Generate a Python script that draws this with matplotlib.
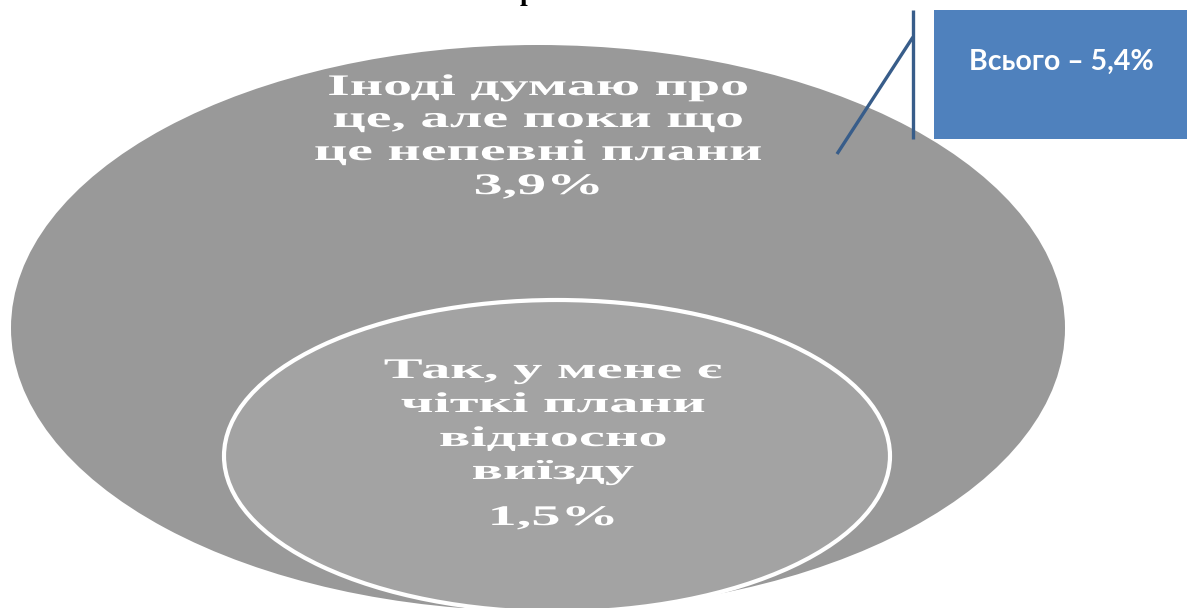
import matplotlib
matplotlib.use("Agg")
import matplotlib.pyplot as plt
from matplotlib.patches import Ellipse, Rectangle
from matplotlib.patheffects import AbstractPathEffect
from matplotlib.transforms import Affine2D

# data
outer_label = ["Іноді думаю про", "це, але поки що", "це непевні плани"]
outer_value = 3.9
inner_label = ["Так, у мене є", "чіткі плани", "відносно", "виїзду"]
inner_value = 1.5
total_value = 5.4


def pct(v):
    return f"{v:.1f}".replace(".", ",") + "%"


class Widen(AbstractPathEffect):
    # stretch each text line horizontally around its own centre
    def __init__(self, sx):
        super().__init__()
        self.sx = sx

    def draw_path(self, renderer, gc, tpath, affine, rgbFace=None):
        ext = tpath.get_extents()
        cx = (ext.x0 + ext.x1) / 2
        st = Affine2D().translate(-cx, 0).scale(self.sx, 1).translate(cx, 0)
        renderer.draw_path(gc, tpath, st + affine, rgbFace)


fig = plt.figure(figsize=(11.87, 6.08), dpi=100)
ax = fig.add_axes([0, 0, 1, 1])
ax.set_xlim(0, 1187)
ax.set_ylim(608, 0)
ax.axis("off")

ax.add_patch(Ellipse((538, 328), 1054, 566, facecolor="#999999", edgecolor="none"))
ax.add_patch(Ellipse((557, 456), 666, 312, facecolor="#a3a3a3", edgecolor="white", linewidth=3))

serif = dict(family="Liberation Serif", fontweight="bold", color="white", ha="center", va="baseline")

top_lines = outer_label + [pct(outer_value)]
top_y = [95, 127, 160, 194]
for s, y in zip(top_lines, top_y):
    ax.text(538, y, s, fontsize=21.5, path_effects=[Widen(1.94)], **serif)

bot_lines = inner_label + [pct(inner_value)]
bot_y = [378, 412, 446, 479, 525]
for s, y in zip(bot_lines, bot_y):
    ax.text(553, y, s, fontsize=20.5, path_effects=[Widen(2.05)], **serif)

# callout
ax.add_patch(Rectangle((934, 10), 260, 129, facecolor="#4f81bd", edgecolor="none"))
ax.text(1061, 62, "Всього – " + pct(total_value), family="Lato", fontweight="bold",
        fontsize=20.5, color="white", ha="center", va="center")
ax.plot([913, 913], [10, 139], color="#385d8a", linewidth=2.4, solid_capstyle="butt")
ax.plot([913, 837], [37, 154], color="#385d8a", linewidth=2.4, solid_capstyle="butt")

# cut-off title fragment at the very top
fig.text(527 / 1187, 1.0, "р", family="Liberation Serif", fontweight="bold",
         fontsize=20, color="black", ha="center", va="baseline")

fig.savefig("out.png", dpi=100)
